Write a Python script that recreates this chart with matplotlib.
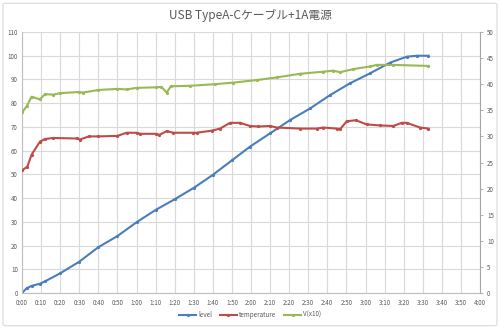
import matplotlib
matplotlib.use("Agg")
import matplotlib.pyplot as plt
from matplotlib.patches import FancyBboxPatch
from matplotlib.ticker import FuncFormatter, MultipleLocator

plt.rcParams['font.family'] = ['Noto Sans CJK JP', 'DejaVu Sans']

title = "USB TypeA-Cケーブル+1A電源"

# level (%), left axis, time in minutes
level_t = [0, 2.4, 5, 9.4, 12, 20, 30, 40, 50, 60, 70, 80, 90, 100, 110, 119.5,
           130, 140.5, 151, 161.4, 171.9, 182.4, 192.9, 201.6, 207, 213]
level_v = [0, 2.0, 3.0, 3.9, 4.9, 8.3, 13.2, 19.3, 24.0, 29.8, 35.0, 39.5, 44.3,
           49.8, 55.9, 61.7, 67.3, 72.9, 77.8, 83.4, 88.4, 92.6, 97.1, 99.6, 100, 100]

# temperature, right axis
temp_t = [0, 2.8, 5, 9.4, 12, 16.4, 28.6, 30.4, 35, 40, 50, 54.8, 60, 61.8, 70, 72,
          75.8, 79.3, 89.8, 91.5, 99.4, 103.8, 109, 114.2, 119.5, 123.7, 130, 133.5,
          145.7, 154.4, 157.9, 164.9, 166.7, 170.2, 174.9, 180.6, 187.6, 194.6, 199,
          201.6, 208.6, 213]
temp_v = [23.5, 24.2, 26.5, 29.0, 29.5, 29.7, 29.6, 29.4, 30.0, 30.0, 30.1, 30.7,
          30.7, 30.5, 30.5, 30.3, 31.0, 30.7, 30.7, 30.7, 31.1, 31.5, 32.6, 32.6,
          32.0, 31.9, 32.0, 31.7, 31.5, 31.5, 31.7, 31.5, 31.4, 32.9, 33.1, 32.3,
          32.1, 32.0, 32.6, 32.6, 31.7, 31.5]

# voltage x10, right axis
volt_t = [0, 2.5, 5, 9.4, 12, 16.4, 20, 30, 32, 40, 50, 54.8, 60, 70, 73, 75.8, 78,
          88, 101, 110.7, 123, 133.5, 145.7, 157.9, 163.1, 166.7, 173.7, 182.4,
          185.9, 194.6, 213]
volt_v = [34.6, 35.8, 37.6, 37.1, 38.1, 38.0, 38.3, 38.5, 38.4, 38.9, 39.1, 39.0,
          39.3, 39.4, 39.5, 38.4, 39.6, 39.7, 40.0, 40.3, 40.8, 41.3, 42.0, 42.4,
          42.6, 42.3, 42.9, 43.4, 43.7, 43.7, 43.5]

series_names = ["level", "temperature", "V(x10)"]
colors = ["#4A7EBB", "#BE4B48", "#98B954"]

fig = plt.figure(figsize=(5.0, 3.29), dpi=100)
fig.patch.set_facecolor("white")
border = FancyBboxPatch((0.006, 0.01), 0.988, 0.98, boxstyle="round,pad=0,rounding_size=0.005",
                        transform=fig.transFigure, facecolor="none", edgecolor="#D9D9D9", lw=0.8)
fig.patches.append(border)

ax = fig.add_axes([0.044, 0.1094, 0.916, 0.7933])
ax2 = ax.twinx()

ax.set_xlim(0, 240)
ax.set_ylim(0, 110)
ax2.set_ylim(0, 50)
ax.xaxis.set_major_locator(MultipleLocator(10))
ax.yaxis.set_major_locator(MultipleLocator(10))
ax2.yaxis.set_major_locator(MultipleLocator(5))
ax.xaxis.set_major_formatter(FuncFormatter(lambda m, p: f"{int(m // 60)}:{int(m % 60):02d}"))
ax.grid(True, color="#D9D9D9", lw=0.8)
ax.set_axisbelow(True)

lw = 1.5
ms = 1.3
l1, = ax.plot(level_t, level_v, color=colors[0], lw=lw, marker="o", ms=ms, label=series_names[0])
l2, = ax2.plot(temp_t, temp_v, color=colors[1], lw=lw, marker="o", ms=ms, label=series_names[1])
l3, = ax2.plot(volt_t, volt_v, color=colors[2], lw=lw, marker="o", ms=ms, label=series_names[2])

for a in (ax, ax2):
    for s in a.spines.values():
        s.set_visible(False)
ax.spines["left"].set_visible(True)
ax.spines["left"].set_color("#BFBFBF")
ax.spines["bottom"].set_visible(True)
ax.spines["bottom"].set_color("#BFBFBF")
ax2.spines["right"].set_visible(True)
ax2.spines["right"].set_color("#A6A6A6")

ax.tick_params(axis="both", length=0, labelsize=4.5, colors="#595959", pad=3)
ax.tick_params(axis="x", pad=4)
ax2.tick_params(axis="y", length=2, width=0.6, color="#A6A6A6", labelsize=4.5,
                labelcolor="#595959", pad=3)

fig.text(0.5, 0.952, title, ha="center", va="center", fontsize=8.5, color="#595959")

fig.legend(handles=[l1, l2, l3], labels=series_names, loc="center",
           bbox_to_anchor=(0.5, 0.043), ncol=3, frameon=False, fontsize=4.5,
           handlelength=2.8, columnspacing=1.2, handletextpad=0.3, labelcolor="#595959")

fig.savefig("out.png", dpi=100)
